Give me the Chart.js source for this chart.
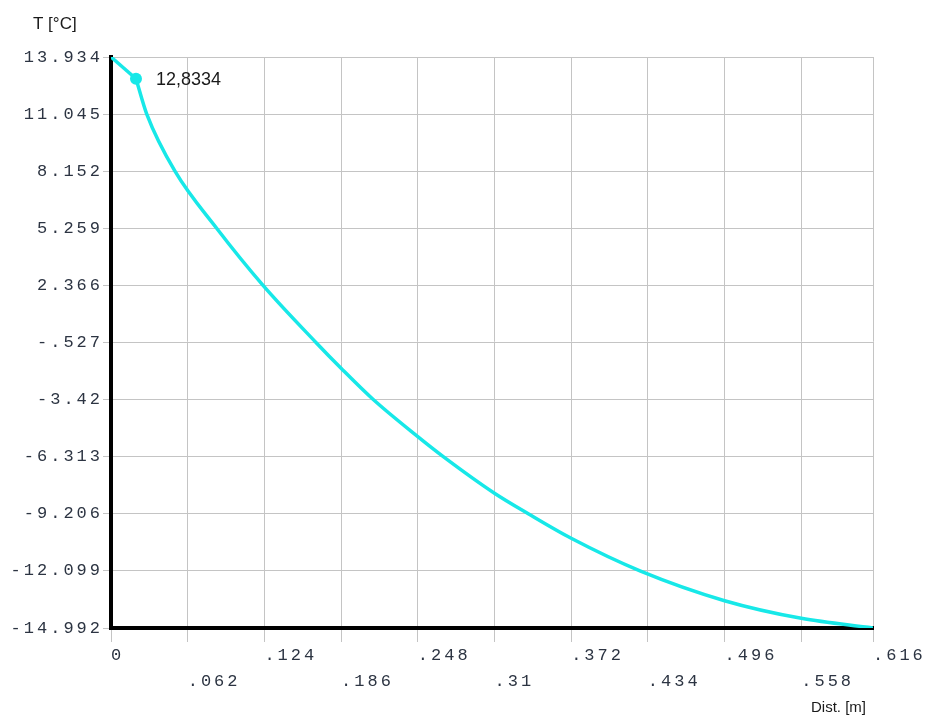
<!DOCTYPE html>
<html>
<head>
<meta charset="utf-8">
<script src="https://cdn.jsdelivr.net/npm/chart.js@4.4.1/dist/chart.umd.min.js"></script>
<style>
  body { margin: 0; background: #fff; }
  canvas { display: block; }
</style>
</head>
<body>
<canvas id="tempChart" width="927" height="720"></canvas>
<script>
// distance along the wall [m] and temperature [°C]
const distances = [0, 0.0202, 0.0289, 0.0517, 0.0854, 0.1229, 0.1657, 0.186, 0.212, 0.248,
  0.2686, 0.31, 0.3373, 0.372, 0.4276, 0.496, 0.558, 0.616];
const temps = [13.934, 12.8334, 11.045, 8.152, 5.259, 2.366, -0.527, -1.836, -3.42, -5.3,
  -6.313, -8.168, -9.206, -10.449, -12.099, -13.609, -14.501, -14.992];

const xTickValues = [0, 0.062, 0.124, 0.186, 0.248, 0.31, 0.372, 0.434, 0.496, 0.558, 0.616];
const xTickLabels = ["0", ".062", ".124", ".186", ".248", ".31", ".372", ".434", ".496", ".558", ".616"];
const yTickValues = [13.934, 11.045, 8.152, 5.259, 2.366, -0.527, -3.42, -6.313, -9.206, -12.099, -14.992];
const yTickLabels = ["13.934", "11.045", "8.152", "5.259", "2.366", "-.527", "-3.42", "-6.313", "-9.206", "-12.099", "-14.992"];

const markerIndex = 1;
const markerText = "12,8334";

const cyan = "#17e8e8";
const tickFont = { family: "'Liberation Mono', 'DejaVu Sans Mono', monospace", size: 17 };

const points = distances.map((d, i) => ({ x: d, y: temps[i] }));

// wide spacing of the tick digits
const spacingPlugin = {
  id: "spacing",
  beforeLayout(chart) { chart.ctx.letterSpacing = "3px"; },
  beforeDraw(chart) { chart.ctx.letterSpacing = "3px"; },
};

const textPlugin = {
  id: "texts",
  afterDraw(chart) {
    const ctx = chart.ctx;
    const area = chart.chartArea;
    ctx.save();
    ctx.letterSpacing = "0px";
    ctx.fillStyle = "#1a1a1a";
    ctx.textBaseline = "middle";
    ctx.textAlign = "left";
    ctx.font = "17px 'Liberation Sans', Arial, sans-serif";
    ctx.fillText("T [°C]", area.left - 78, area.top - 33);

    ctx.font = "15px 'Liberation Sans', Arial, sans-serif";
    ctx.textAlign = "right";
    ctx.fillText("Dist. [m]", area.right - 7, area.bottom + 80);

    const pt = chart.getDatasetMeta(0).data[markerIndex];
    ctx.font = "18px 'Liberation Sans', Arial, sans-serif";
    ctx.textAlign = "left";
    ctx.fillText(markerText, pt.x + 20, pt.y + 1);
    ctx.restore();
  },
};

new Chart(document.getElementById("tempChart"), {
  type: "line",
  data: {
    datasets: [
      {
        // straight piece up to the marked point
        data: points.slice(0, markerIndex + 1),
        borderColor: cyan,
        backgroundColor: cyan,
        borderWidth: 3.5,
        tension: 0,
        pointRadius: (c) => (c.dataIndex === markerIndex ? 6 : 0),
        pointBorderWidth: 0,
        pointHoverRadius: 0,
      },
      {
        data: points.slice(markerIndex),
        borderColor: cyan,
        borderWidth: 3.5,
        cubicInterpolationMode: "monotone",
        pointRadius: 0,
        pointHoverRadius: 0,
      },
    ],
  },
  options: {
    responsive: false,
    animation: false,
    events: [],
    layout: { padding: { top: 57, right: 54, left: 0, bottom: 0 } },
    plugins: { legend: { display: false }, tooltip: { enabled: false } },
    scales: {
      x: {
        type: "linear",
        min: 0,
        max: 0.616,
        afterBuildTicks(scale) { scale.ticks = xTickValues.map((v) => ({ value: v })); },
        afterFit(scale) { scale.height = 92; },
        grid: { color: "#c4c4c4", lineWidth: 1, tickLength: 14 },
        border: { color: "#000", width: 4 },
        ticks: {
          autoSkip: false,
          maxRotation: 0,
          align: "start",
          padding: 0,
          color: "#2c3442",
          font: { ...tickFont, lineHeight: 1.53 },
          callback(value, index) {
            const label = xTickLabels[index];
            return index % 2 === 1 ? ["", label] : label;
          },
        },
      },
      y: {
        min: -14.992,
        max: 13.934,
        afterBuildTicks(scale) { scale.ticks = yTickValues.map((v) => ({ value: v })); },
        afterFit(scale) { scale.width = 111; },
        grid: { color: "#c4c4c4", lineWidth: 1, tickLength: 8 },
        border: { color: "#000", width: 4 },
        ticks: {
          autoSkip: false,
          padding: 0,
          color: "#2c3442",
          font: tickFont,
          callback(value) {
            const i = yTickValues.indexOf(value);
            return i >= 0 ? yTickLabels[i] : "";
          },
        },
      },
    },
  },
  plugins: [spacingPlugin, textPlugin],
});
</script>
</body>
</html>
